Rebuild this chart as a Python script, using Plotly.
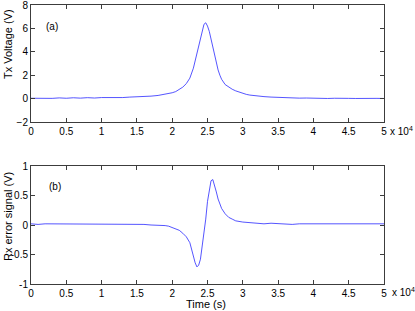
import plotly.graph_objects as go

# ---- data ----
time_tx = [0, 1000, 2000, 3000, 4000, 5000, 6000, 7000, 8000, 9000, 10000, 11000, 12000,
           13000, 14000, 15000, 16000, 17000, 18000, 19000, 19500, 20000, 20500, 21000,
           21500, 22000, 22500, 23000, 23250, 23500, 23750, 24000, 24250, 24500, 24750,
           25000, 25250, 25500, 25750, 26000, 26250, 26500, 26750, 27000, 27500, 28000,
           28500, 29000, 29500, 30000, 30500, 31000, 32000, 33000, 34000, 35000, 36000,
           37000, 38000, 39000, 40000, 41000, 42000, 43000, 44000, 45000, 46000, 47000,
           48000, 49000, 50000]
tx_voltage = [0.03, 0.01, 0.05, 0.02, 0.06, 0.03, 0.07, 0.04, 0.08, 0.05, 0.09, 0.07, 0.11,
              0.09, 0.13, 0.14, 0.17, 0.21, 0.27, 0.36, 0.43, 0.5, 0.6, 0.78,
              0.98, 1.28, 1.75, 2.6, 3.25, 3.9, 4.6, 5.3, 5.9, 6.35, 6.48,
              6.2, 5.75, 5.1, 4.4, 3.7, 3.0, 2.45, 2.0, 1.65, 1.2, 0.98,
              0.8, 0.66, 0.55, 0.45, 0.36, 0.3, 0.22, 0.17, 0.13, 0.1, 0.08,
              0.06, 0.04, 0.05, 0.02, 0.03, 0.01, 0.03, 0.0, 0.02, 0.01, 0.03,
              0.0, 0.02, 0.01]

time_rx = [0, 1000, 2000, 3000, 4000, 5000, 6000, 7000, 8000, 9000, 10000, 11000, 12000,
           13000, 14000, 15000, 16000, 17000, 18000, 19000, 19500, 20000, 20500, 21000,
           21500, 22000, 22500, 22750, 23000, 23250, 23500, 23750, 24000, 24250, 24500,
           24750, 25000, 25250, 25500, 25750, 26000, 26250, 26500, 26750, 27000, 27500,
           28000, 28500, 29000, 30000, 31000, 32000, 33000, 34000, 35000, 36000, 37000,
           38000, 39000, 40000, 41000, 42000, 43000, 44000, 45000, 46000, 47000, 48000,
           49000, 50000]
rx_error = [0.02, 0.01, 0.02, 0.02, 0.01, 0.02, 0.02, 0.01, 0.02, 0.01, 0.02, 0.02, 0.01,
            0.02, 0.01, 0.02, 0.01, 0.0, -0.0, -0.01, -0.02, -0.04, -0.06, -0.09,
            -0.14, -0.2, -0.3, -0.42, -0.54, -0.64, -0.71, -0.68, -0.58, -0.38, -0.15,
            0.1, 0.4, 0.62, 0.75, 0.77, 0.68, 0.56, 0.44, 0.35, 0.28, 0.19,
            0.13, 0.1, 0.07, 0.05, 0.04, 0.03, 0.02, 0.03, 0.02, 0.02, 0.01,
            0.02, 0.02, 0.01, 0.02, 0.01, 0.02, 0.02, 0.01, 0.02, 0.01, 0.02,
            0.01, 0.02]

x_tickvals = [0, 5000, 10000, 15000, 20000, 25000, 30000, 35000, 40000, 45000, 50000]
x_ticktext = ["0", "0.5", "1", "1.5", "2", "2.5", "3", "3.5", "4", "4.5", "5"]
tx_ticks = [-2, 0, 2, 4, 6, 8]
rx_tickvals = [-1, -0.5, 0, 0.5, 1]
rx_ticktext = ["-1", "-0.5", "0", "0.5", "1"]

W, H = 415, 311
FONT = "Liberation Sans, Arial, Helvetica, sans-serif"
LINE = "#3c3c3c"

def fx(px):
    return px / W

def fy(py):
    return 1 - py / H

fig = go.Figure()
fig.add_trace(go.Scatter(x=time_tx, y=tx_voltage, mode="lines",
                         line=dict(color="#2a2aff", width=0.8), xaxis="x", yaxis="y"))
fig.add_trace(go.Scatter(x=time_rx, y=rx_error, mode="lines",
                         line=dict(color="#2a2aff", width=0.8), xaxis="x2", yaxis="y2"))

xd = [fx(31), fx(384)]
common_axis = dict(showgrid=False, zeroline=False, showline=True, linecolor=LINE,
                   linewidth=1, mirror="ticks", ticks="inside", ticklen=4,
                   tickcolor=LINE, tickwidth=1, automargin=False,
                   ticklabeloverflow="allow",
                   tickfont=dict(family=FONT, size=10, color="#000"))

fig.update_layout(
    template="none",
    width=W, height=H,
    margin=dict(l=0, r=0, t=0, b=0, pad=0),
    paper_bgcolor="white", plot_bgcolor="white",
    showlegend=False,
    xaxis=dict(domain=xd, range=[0, 50000], tickvals=x_tickvals, ticktext=x_ticktext,
               anchor="y", **common_axis),
    yaxis=dict(domain=[fy(122), fy(5)], range=[-2, 8], tickvals=tx_ticks,
               anchor="x", **common_axis),
    xaxis2=dict(domain=xd, range=[0, 50000], tickvals=x_tickvals, ticktext=x_ticktext,
                anchor="y2", **common_axis),
    yaxis2=dict(domain=[fy(284), fy(166)], range=[-1, 1], tickvals=rx_tickvals,
                ticktext=rx_ticktext, anchor="x2", **common_axis),
)

def ann(text, px, py, size=11, angle=0, xanchor="center", yanchor="middle"):
    fig.add_annotation(text=text, x=fx(px), y=fy(py), xref="paper", yref="paper",
                       showarrow=False, textangle=angle, xanchor=xanchor, yanchor=yanchor,
                       font=dict(family=FONT, size=size, color="#000"))

ann("Tx Voltage (V)", 8, 44, size=11, angle=-90)
ann("Rx error signal (V)", 8, 217, size=11, angle=-90)
ann("Time (s)", 206, 304, size=11)
ann("(a)", 52, 26, size=10)
ann("(b)", 55, 186, size=10)
ann("x 10<sup>4</sup>", 388, 131, size=10, xanchor="left")
ann("x 10<sup>4</sup>", 390, 292, size=10, xanchor="left")

# remove the page's default body margin so the figure sits at the window's corner
fig.write_html("out.html",
               config={"displayModeBar": False},
               post_script="document.body.style.margin='0';document.body.style.overflow='hidden';")
